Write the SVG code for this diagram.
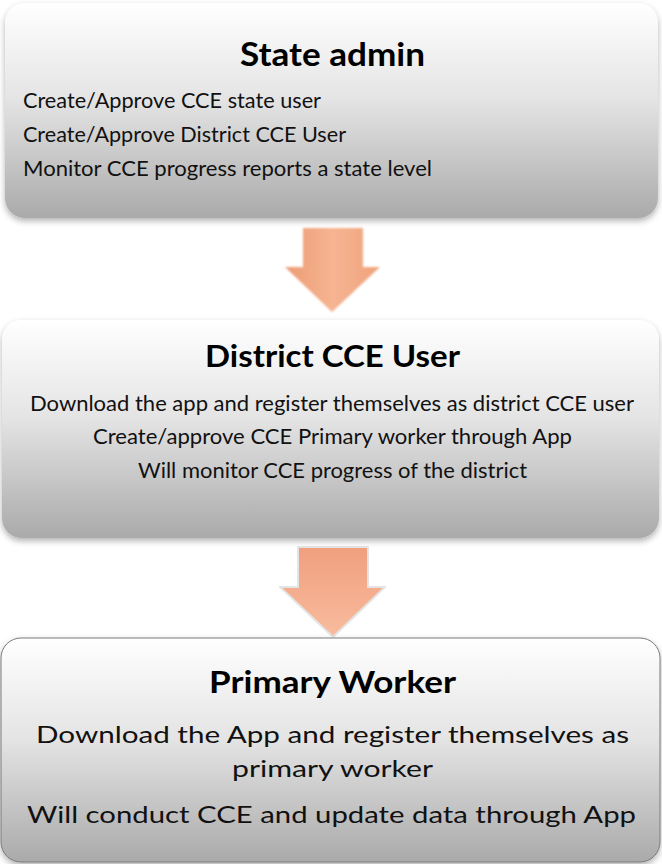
<svg xmlns="http://www.w3.org/2000/svg" width="662" height="864" viewBox="0 0 662 864">
  <defs>
    <linearGradient id="boxGrad" x1="0" y1="0" x2="0" y2="1">
      <stop offset="0" stop-color="#ffffff"/>
      <stop offset="0.45" stop-color="#e4e4e4"/>
      <stop offset="1" stop-color="#aaaaaa"/>
    </linearGradient>
    <linearGradient id="arrowGrad1" x1="0" y1="0" x2="1" y2="0">
      <stop offset="0" stop-color="#ec9c74"/>
      <stop offset="0.5" stop-color="#f6b492"/>
      <stop offset="1" stop-color="#efa37c"/>
    </linearGradient>
    <linearGradient id="arrowGrad2" x1="0" y1="0" x2="0" y2="1">
      <stop offset="0" stop-color="#f09f7e"/>
      <stop offset="1" stop-color="#f8bc9e"/>
    </linearGradient>
    <filter id="shadow" x="-5%" y="-10%" width="110%" height="125%">
      <feDropShadow dx="0" dy="3" stdDeviation="3" flood-color="#000" flood-opacity="0.3"/>
    </filter>
    <filter id="soft" x="-20%" y="-20%" width="140%" height="140%">
      <feGaussianBlur stdDeviation="1.2"/>
    </filter>
  </defs>
  <style>
    .box { fill: url(#boxGrad); filter: url(#shadow); }
    .title { font-family: Lato, "Open Sans", "Liberation Sans", sans-serif; font-weight: bold; fill: #000; text-anchor: middle; }
    .body { font-family: Lato, "Open Sans", "Liberation Sans", sans-serif; fill: #111; }
    .mid { text-anchor: middle; }
  </style>

  <g id="connectors">
    <path id="arrow1" d="M303,228 L363,228 L363,267 L380,267 L332,312 L285,267 L303,267 Z" fill="url(#arrowGrad1)" filter="url(#soft)"/>
    <path id="arrow2" d="M298,547 L368,547 L368,587 L385,587 L333,637 L280,587 L298,587 Z" fill="url(#arrowGrad2)" stroke="#e4e4e4" stroke-width="2" stroke-linejoin="round"/>
  </g>

  <g id="state-admin">
    <rect class="box" x="5" y="3" width="653" height="215" rx="20" ry="20"/>
    <text class="title" x="332.5" y="66" font-size="33" textLength="185" lengthAdjust="spacingAndGlyphs">State admin</text>
    <text class="body" x="23" y="108" font-size="21" textLength="298" lengthAdjust="spacingAndGlyphs">Create/Approve CCE state user</text>
    <text class="body" x="23" y="142" font-size="21" textLength="323" lengthAdjust="spacingAndGlyphs">Create/Approve District CCE User</text>
    <text class="body" x="23" y="176" font-size="21" textLength="409" lengthAdjust="spacingAndGlyphs">Monitor CCE progress reports a state level</text>
  </g>

  <g id="district-cce-user">
    <rect class="box" x="2" y="320" width="657" height="218" rx="20" ry="20"/>
    <text class="title" x="332.5" y="367" font-size="31" textLength="255" lengthAdjust="spacingAndGlyphs">District CCE User</text>
    <text class="body mid" x="332" y="411" font-size="21" textLength="604" lengthAdjust="spacingAndGlyphs">Download the app and register themselves as district CCE user</text>
    <text class="body mid" x="332.5" y="444" font-size="21" textLength="479" lengthAdjust="spacingAndGlyphs">Create/approve CCE Primary worker through App</text>
    <text class="body mid" x="332.5" y="478" font-size="21" textLength="389" lengthAdjust="spacingAndGlyphs">Will monitor CCE progress of the district</text>
  </g>

  <g id="primary-worker">
    <rect class="box" x="1" y="638" width="659" height="224" rx="20" ry="20" stroke="#7a7a7a" stroke-width="1"/>
    <text class="title" x="332.5" y="693" font-size="30" textLength="247" lengthAdjust="spacingAndGlyphs">Primary Worker</text>
    <text class="body mid" x="332.5" y="743" font-size="24" textLength="593" lengthAdjust="spacingAndGlyphs">Download the App and register themselves as</text>
    <text class="body mid" x="332.5" y="777" font-size="24" textLength="201" lengthAdjust="spacingAndGlyphs">primary worker</text>
    <text class="body mid" x="331.5" y="823" font-size="24" textLength="609" lengthAdjust="spacingAndGlyphs">Will conduct CCE and update data through App</text>
  </g>
</svg>
